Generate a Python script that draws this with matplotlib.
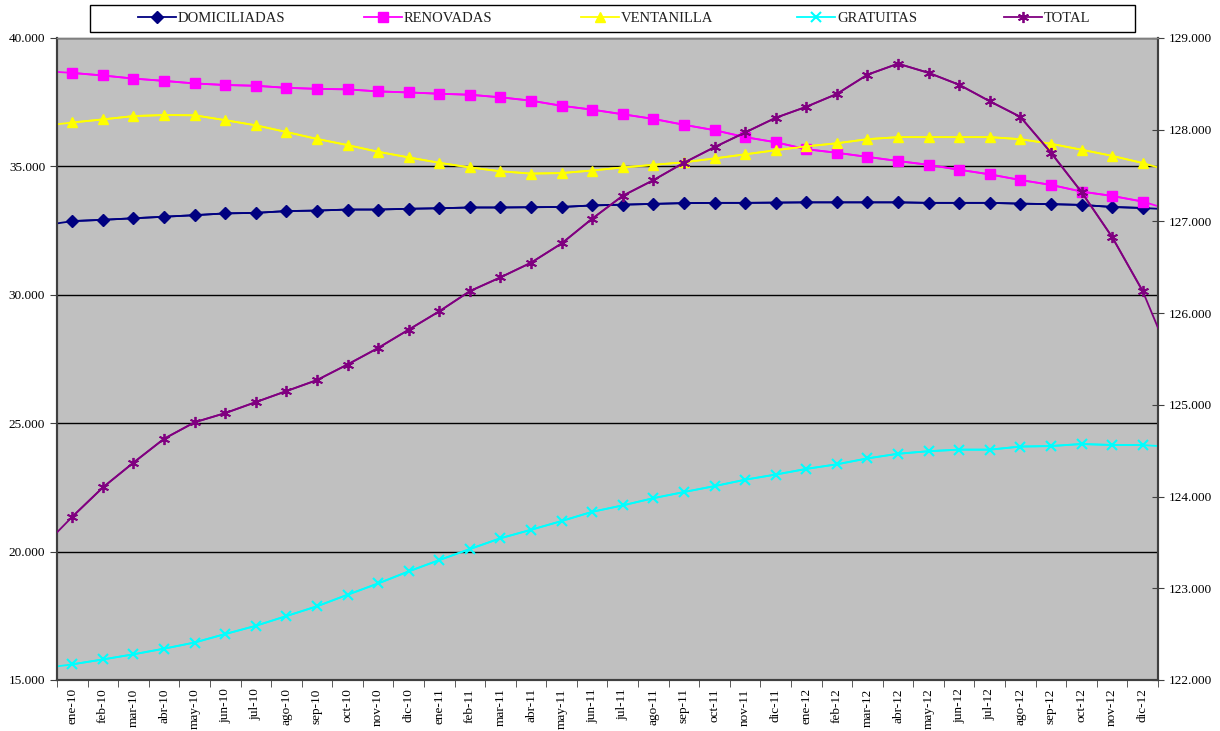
import matplotlib
matplotlib.use("Agg")
import matplotlib.pyplot as plt
from matplotlib.patches import Rectangle
from matplotlib.ticker import FuncFormatter, MultipleLocator, FixedLocator

plt.rcParams["font.family"] = ["Liberation Serif", "DejaVu Serif"]

months = ["ene-10", "feb-10", "mar-10", "abr-10", "may-10", "jun-10",
          "jul-10", "ago-10", "sep-10", "oct-10", "nov-10", "dic-10",
          "ene-11", "feb-11", "mar-11", "abr-11", "may-11", "jun-11",
          "jul-11", "ago-11", "sep-11", "oct-11", "nov-11", "dic-11",
          "ene-12", "feb-12", "mar-12", "abr-12", "may-12", "jun-12",
          "jul-12", "ago-12", "sep-12", "oct-12", "nov-12", "dic-12"]

domiciliadas = [32870, 32920, 32980, 33040, 33100, 33170, 33190, 33260, 33280,
                33320, 33320, 33350, 33370, 33400, 33400, 33410, 33420, 33480,
                33510, 33540, 33570, 33580, 33580, 33590, 33600, 33600, 33600,
                33600, 33580, 33580, 33580, 33550, 33530, 33500, 33420, 33380]
renovadas = [38640, 38540, 38420, 38330, 38230, 38170, 38140, 38060, 38020,
             38000, 37920, 37880, 37830, 37790, 37690, 37560, 37360, 37210,
             37030, 36850, 36620, 36410, 36140, 35940, 35670, 35530, 35370,
             35210, 35060, 34870, 34690, 34470, 34280, 34020, 33850, 33630]
ventanilla = [36710, 36830, 36960, 37000, 36990, 36800, 36600, 36340, 36070,
              35830, 35570, 35350, 35140, 34960, 34810, 34720, 34740, 34840,
              34960, 35060, 35160, 35310, 35470, 35630, 35780, 35900, 36060,
              36140, 36140, 36140, 36140, 36060, 35880, 35650, 35410, 35130]
gratuitas = [15610, 15800, 16000, 16220, 16460, 16790, 17110, 17490, 17870,
             18320, 18760, 19230, 19670, 20100, 20520, 20850, 21190, 21550,
             21800, 22080, 22320, 22550, 22800, 23000, 23220, 23400, 23630,
             23810, 23910, 23970, 23970, 24090, 24110, 24190, 24150, 24150]
total = [123780, 124100, 124370, 124630, 124810, 124910, 125030, 125150, 125270,
         125440, 125620, 125820, 126020, 126240, 126390, 126550, 126760, 127030,
         127280, 127450, 127640, 127810, 127970, 128130, 128250, 128390, 128600,
         128720, 128620, 128490, 128310, 128140, 127750, 127320, 126830, 126240]

# values where each curve meets the left / right edge of the plot area
edge_start = {"DOMICILIADAS": 32780, "RENOVADAS": 38680, "VENTANILLA": 36640,
              "GRATUITAS": 15530, "TOTAL": 123610}
edge_end = {"DOMICILIADAS": 33350, "RENOVADAS": 33450, "VENTANILLA": 34960,
            "GRATUITAS": 24110, "TOTAL": 125840}

n = len(months)
x = list(range(n))

fig = plt.figure(figsize=(12.2, 7.31), dpi=100)
ax = fig.add_axes([57 / 1220, 51 / 731, 1101 / 1220, 642 / 731])
ax2 = ax.twinx()
ax.set_facecolor("#C0C0C0")


def draw(axis, name, values, color, marker, ms, mew=1.0):
    # curve runs on to the plot border, markers only on the months
    axis.plot([-0.5] + x + [n - 0.5],
              [edge_start[name]] + values + [edge_end[name]],
              color=color, linewidth=1.3, zorder=3)
    h, = axis.plot(x, values, color=color, linewidth=1.3, marker=marker,
                   markersize=ms, markerfacecolor=color,
                   markeredgecolor=color, markeredgewidth=mew,
                   label=name, zorder=4)
    return h


handles = [
    draw(ax, "DOMICILIADAS", domiciliadas, "#000080", "D", 6),
    draw(ax, "RENOVADAS", renovadas, "#FF00FF", "s", 7),
    draw(ax, "VENTANILLA", ventanilla, "#FFFF00", "^", 7),
    draw(ax, "GRATUITAS", gratuitas, "#00FFFF", "x", 7, mew=1.5),
    draw(ax2, "TOTAL", total, "#800080", (6, 2, 0), 8, mew=1.3),
]

thousands = FuncFormatter(lambda v, p: f"{v:,.0f}".replace(",", "."))

ax.set_xlim(-0.5, n - 0.5)
ax.set_ylim(15000, 40000)
ax.yaxis.set_major_locator(MultipleLocator(5000))
ax.yaxis.set_major_formatter(thousands)
ax.grid(axis="y", color="black", linewidth=1.0, zorder=1)
ax.set_axisbelow(True)

ax2.set_ylim(122000, 129000)
ax2.yaxis.set_major_locator(MultipleLocator(1000))
ax2.yaxis.set_major_formatter(thousands)

ax.set_xticks(x)
ax.set_xticklabels(months, rotation=90, fontsize=9.5)
ax.xaxis.set_minor_locator(FixedLocator([i - 0.5 for i in range(n + 1)]))
ax.tick_params(axis="x", which="major", length=0, pad=6)
ax.tick_params(axis="x", which="minor", length=5, direction="out", color="#404040")
ax.tick_params(axis="y", labelsize=9.5, length=5, direction="out", color="#404040")
ax2.tick_params(axis="y", labelsize=9.5, length=8, direction="inout", color="#404040")

for a in (ax, ax2):
    for side in a.spines.values():
        side.set_color("#404040")
        side.set_linewidth(1.5)
    a.spines["top"].set_color("#808080")
    a.spines["top"].set_linewidth(1.0)

# legend: one framed box with evenly spaced entries, Excel style
fig.patches.append(Rectangle((90 / 1220, 699 / 731), 1045 / 1220, 27 / 731,
                             transform=fig.transFigure, facecolor="white",
                             edgecolor="black", linewidth=1.0, zorder=5))
entry_x = [138, 364, 581, 797, 1004]
for h, ex in zip(handles, entry_x):
    lg = fig.legend(handles=[h], loc="center left", frameon=False,
                    bbox_to_anchor=(ex / 1220, 712.5 / 731),
                    borderaxespad=0, borderpad=0, fontsize=10.5,
                    handlelength=2.6, handletextpad=0.15)
    lg.set_zorder(6)
    lg.get_texts()[0].set_color("#202020")

fig.savefig("out.png", dpi=100)
